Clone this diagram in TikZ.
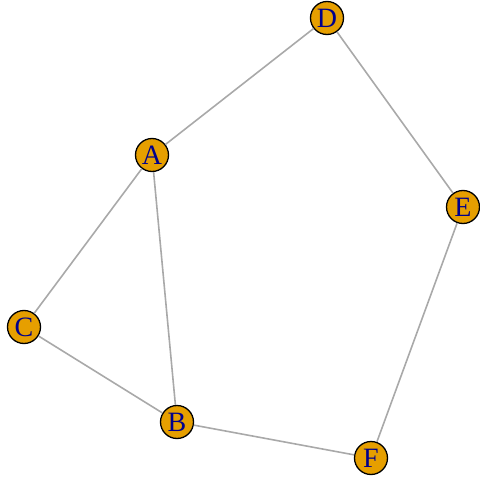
\documentclass[tikz,border=0pt]{standalone}
\usepackage{fontspec}
\setmainfont{Liberation Serif}
\usepackage{xcolor}
\usepackage{tikz}
\definecolor{vfill}{HTML}{E69F00}
\definecolor{vtext}{HTML}{00008B}
\definecolor{elinecol}{HTML}{A9A9A9}

\begin{document}
\begin{tikzpicture}[x=1pt, y=-1pt,
    vert/.style={circle, draw=black, line width=1.3pt, fill=vfill, text=vtext,
      minimum size=33pt, inner sep=0pt, font=\fontsize{28}{28}\selectfont},
    edge/.style={draw=elinecol, line width=1.6pt}]
        \useasboundingbox (0,0) rectangle (480,479);
        % vertices
        \node[vert] (D) at (327,18) {D};
        \node[vert] (A) at (152,155) {A};
        \node[vert] (E) at (463,207) {E};
        \node[vert] (C) at (24,327) {C};
        \node[vert] (B) at (177,422) {B};
        \node[vert] (F) at (371,458) {F};
        % edges
        \draw[edge] (A) -- (D);
        \draw[edge] (D) -- (E);
        \draw[edge] (A) -- (C);
        \draw[edge] (A) -- (B);
        \draw[edge] (C) -- (B);
        \draw[edge] (B) -- (F);
        \draw[edge] (E) -- (F);
    \end{tikzpicture}
\end{document}
